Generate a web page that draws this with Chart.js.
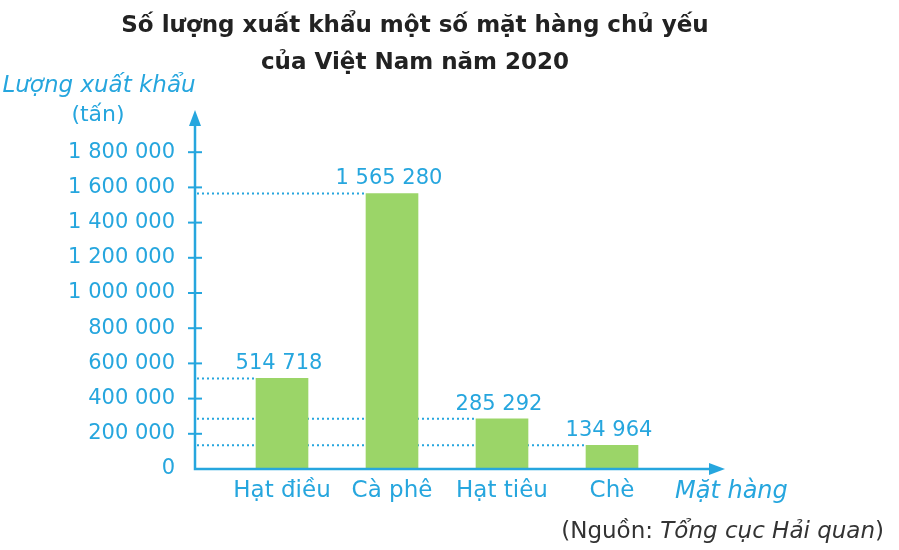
<!DOCTYPE html>
<html>
<head>
<meta charset="utf-8">
<script src="https://cdn.jsdelivr.net/npm/chart.js@4"></script>
<style>
  html, body { margin: 0; padding: 0; background: #ffffff; }
  canvas { display: block; }
</style>
</head>
<body>
<canvas id="chart" width="899" height="550"></canvas>
<script>
const categories = ["Hạt điều", "Cà phê", "Hạt tiêu", "Chè"];
const exportTons = [514718, 1565280, 285292, 134964];
const yMax = 2000000;
const yStep = 200000;
const titleLines = ["Số lượng xuất khẩu một số mặt hàng chủ yếu", "của Việt Nam năm 2020"];
const yTitleLines = ["Lượng xuất khẩu", "(tấn)"];
const xTitle = "Mặt hàng";

const blue = "rgb(38, 166, 222)";
const green = "rgb(155, 213, 104)";
const font = "'DejaVu Sans', sans-serif";

// "1565280" -> "1 565 280"
function fmt(v) {
  return String(v).replace(/\B(?=(\d{3})+(?!\d))/g, " ");
}

// hand drawn axes, arrows, dotted guide lines and texts
const decor = {
  id: "decor",
  beforeDatasetsDraw(chart) {
    const { ctx, scales } = chart;
    const axisX = chart.chartArea.left - 32;
    const meta = chart.getDatasetMeta(0);
    ctx.save();
    ctx.strokeStyle = blue;
    ctx.lineWidth = 2;
    ctx.setLineDash([2, 3]);
    meta.data.forEach((bar, i) => {
      const y = scales.y.getPixelForValue(exportTons[i]);
      ctx.beginPath();
      ctx.moveTo(axisX + 2, y);
      ctx.lineTo(bar.x - bar.width / 2, y);
      ctx.stroke();
    });
    ctx.restore();
  },
  afterDatasetsDraw(chart) {
    const { ctx, scales, chartArea } = chart;
    const axisX = chartArea.left - 32;
    const y0 = scales.y.getPixelForValue(0);
    const yTop = chartArea.top - 7;
    const xEnd = chartArea.right + 58;
    ctx.save();
    ctx.strokeStyle = blue;
    ctx.fillStyle = blue;
    ctx.lineWidth = 2.5;

    // axes
    ctx.beginPath();
    ctx.moveTo(axisX, yTop + 10);
    ctx.lineTo(axisX, y0);
    ctx.lineTo(xEnd - 10, y0);
    ctx.stroke();

    // arrow heads
    ctx.beginPath();
    ctx.moveTo(axisX, yTop);
    ctx.lineTo(axisX - 6, yTop + 16);
    ctx.lineTo(axisX + 6, yTop + 16);
    ctx.closePath();
    ctx.fill();
    ctx.beginPath();
    ctx.moveTo(xEnd, y0);
    ctx.lineTo(xEnd - 16, y0 - 6);
    ctx.lineTo(xEnd - 16, y0 + 6);
    ctx.closePath();
    ctx.fill();

    // tick marks
    ctx.lineWidth = 2;
    for (let v = yStep; v < yMax; v += yStep) {
      const y = scales.y.getPixelForValue(v);
      ctx.beginPath();
      ctx.moveTo(axisX - 7, y);
      ctx.lineTo(axisX + 7, y);
      ctx.stroke();
    }

    // value labels
    ctx.font = "21px " + font;
    ctx.textAlign = "center";
    ctx.textBaseline = "bottom";
    chart.getDatasetMeta(0).data.forEach((bar, i) => {
      ctx.fillText(fmt(exportTons[i]), bar.x - 3, bar.y - 4);
    });
    ctx.restore();
  },
  afterDraw(chart) {
    const { ctx, chartArea } = chart;
    ctx.save();
    ctx.textBaseline = "middle";

    // title
    ctx.fillStyle = "#222222";
    ctx.font = "bold 23px " + font;
    ctx.textAlign = "center";
    ctx.fillText(titleLines[0], 415, 26);
    ctx.fillText(titleLines[1], 415, 63);

    // axis titles
    ctx.fillStyle = blue;
    ctx.font = "italic 23px " + font;
    ctx.fillText(yTitleLines[0], 99, 86);
    ctx.font = "22px " + font;
    ctx.fillText(yTitleLines[1], 98, 115);
    ctx.textAlign = "left";
    ctx.font = "italic 24px " + font;
    ctx.fillText(xTitle, chartArea.right + 8, 492);

    // source line, right aligned
    ctx.fillStyle = "#333333";
    const parts = [["(Nguồn: ", ""], ["Tổng cục Hải quan", "italic "], [")", ""]];
    let total = 0;
    parts.forEach(p => {
      ctx.font = p[1] + "23px " + font;
      total += ctx.measureText(p[0]).width;
    });
    let x = 884 - total;
    parts.forEach(p => {
      ctx.font = p[1] + "23px " + font;
      ctx.fillText(p[0], x, 532);
      x += ctx.measureText(p[0]).width;
    });
    ctx.restore();
  }
};

new Chart(document.getElementById("chart"), {
  type: "bar",
  data: {
    labels: categories,
    datasets: [{
      data: exportTons,
      backgroundColor: green,
      borderWidth: 0,
      barThickness: 52
    }]
  },
  options: {
    responsive: false,
    animation: false,
    devicePixelRatio: 1,
    layout: { padding: { top: 117, right: 232, bottom: 0, left: 0 } },
    plugins: {
      legend: { display: false },
      tooltip: { enabled: false },
      title: { display: false }
    },
    scales: {
      x: {
        grid: { display: false, drawTicks: false },
        border: { display: false },
        ticks: { color: blue, font: { family: font, size: 23 }, padding: 8 },
        afterFit(scale) { scale.height = 81; }
      },
      y: {
        min: 0,
        max: yMax,
        grid: { display: false, drawTicks: false },
        border: { display: false },
        ticks: {
          stepSize: yStep,
          color: blue,
          font: { family: font, size: 21 },
          padding: 52,
          callback: v => (v >= yMax ? "" : fmt(v))
        },
        afterFit(scale) { scale.width = 227; }
      }
    }
  },
  plugins: [decor]
});
</script>
</body>
</html>
